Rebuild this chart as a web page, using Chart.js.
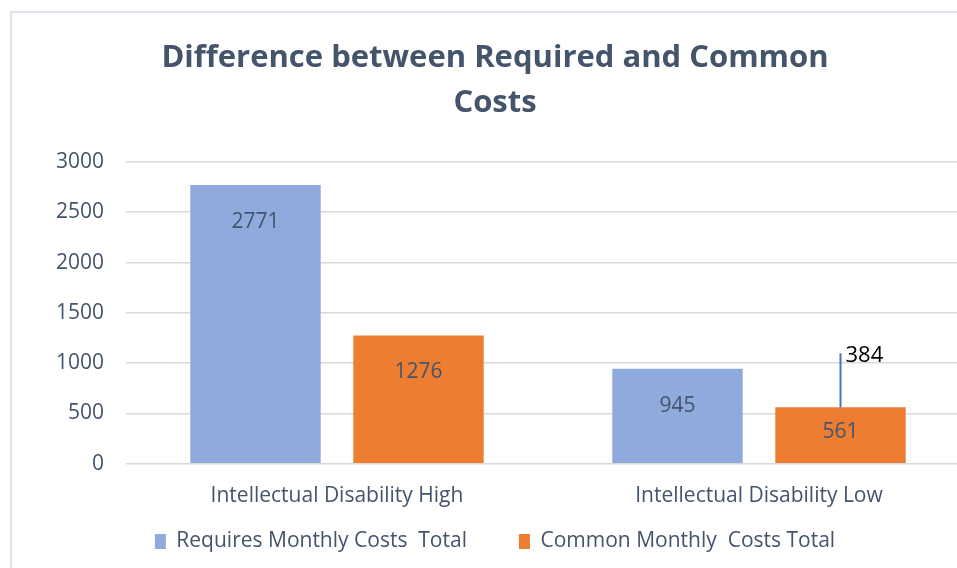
<!DOCTYPE html>
<html>
<head>
<meta charset="utf-8">
<script src="https://cdn.jsdelivr.net/npm/chart.js@4.4.1/dist/chart.umd.min.js"></script>
<style>
  html, body { margin: 0; padding: 0; background: #fff; overflow: hidden; }
  #frame { position: absolute; left: 10px; top: 11px; width: 1000px; height: 600px;
           border-left: 2px solid #dde3ea; border-top: 2px solid #dde3ea; }
  #wrap { position: absolute; left: 0; top: 0; width: 980px; height: 568px; }
</style>
</head>
<body>
<div id="frame"></div>
<div id="wrap"><canvas id="myChart"></canvas></div>
<script>
// chart data
const categories = ['Intellectual Disability High', 'Intellectual Disability Low'];
const requiredCosts = [2771, 945];
const commonCosts = [1276, 561];
const seriesNames = ['Requires Monthly Costs  Total', 'Common Monthly  Costs Total'];
const diffLabels = [null, 384];   // difference shown above the 2nd orange bar

const textColor = '#44546a';
const fontFamily = "'Open Sans', 'Noto Sans', sans-serif";

// value labels inside the bars + the leader line with the difference
const barLabels = {
    id: 'barLabels',
    afterDatasetsDraw(chart) {
        const ctx = chart.ctx;
        ctx.save();
        ctx.font = '21px ' + fontFamily;
        ctx.fillStyle = textColor;
        ctx.textAlign = 'center';
        ctx.textBaseline = 'middle';
        chart.data.datasets.forEach((ds, i) => {
            chart.getDatasetMeta(i).data.forEach((bar, j) => {
                const mid = (bar.y + bar.base) / 2;
                const y = Math.min(bar.y + 37, mid - 3);
                ctx.fillText(ds.data[j], bar.x, y);
            });
        });
        // difference marker
        const meta = chart.getDatasetMeta(1);
        diffLabels.forEach((d, j) => {
            if (d == null) return;
            const bar = meta.data[j];
            ctx.strokeStyle = '#4472c4';
            ctx.lineWidth = 2;
            ctx.beginPath();
            ctx.moveTo(bar.x, bar.y);
            ctx.lineTo(bar.x, bar.y - 54);
            ctx.stroke();
            ctx.fillStyle = '#000';
            ctx.font = '22px ' + fontFamily;
            ctx.textAlign = 'left';
            ctx.fillText(d, bar.x + 5, bar.y - 52);
        });
        ctx.restore();
    }
};

var ctx = document.getElementById('myChart').getContext('2d');
var myChart = new Chart(ctx, {
    type: 'bar',
    data: {
        labels: categories,
        datasets: [{
            label: seriesNames[0],
            data: requiredCosts,
            backgroundColor: '#8faadc',
            categoryPercentage: 0.7725,
            barPercentage: 0.8
        }, {
            label: seriesNames[1],
            data: commonCosts,
            backgroundColor: '#ed7d31',
            categoryPercentage: 0.7725,
            barPercentage: 0.8
        }]
    },
    options: {
        responsive: true,
        maintainAspectRatio: false,
        animation: false,
        layout: { padding: { left: 20, right: 10, top: 36, bottom: 6 } },
        plugins: {
            title: {
                display: true,
                text: ['Difference between Required and Common', 'Costs'],
                color: textColor,
                font: { family: fontFamily, size: 31, weight: 'bold', lineHeight: 1.45 },
                padding: { top: 0, bottom: 36 }
            },
            legend: {
                position: 'bottom',
                labels: {
                    color: textColor,
                    font: { family: fontFamily, size: 21 },
                    boxWidth: 11,
                    boxHeight: 15,
                    padding: 10,
                    generateLabels(chart) {
                        const items = Chart.defaults.plugins.legend.labels.generateLabels(chart);
                        // wider gap after the first entry
                        items[0].text = items[0].text + '\u2003\u2003';
                        return items;
                    }
                }
            },
            tooltip: { enabled: false }
        },
        scales: {
            x: {
                grid: { display: false },
                border: { display: false },
                ticks: { color: textColor, font: { family: fontFamily, size: 21 }, padding: 12 }
            },
            y: {
                min: 0,
                max: 3000,
                ticks: {
                    stepSize: 500,
                    color: textColor,
                    font: { family: fontFamily, size: 21 },
                    padding: 22,
                    callback: v => String(v)
                },
                grid: { color: '#d9d9d9', lineWidth: 1.5, drawTicks: false },
                border: { display: false },
                afterFit(scale) { scale.width = 106; }
            }
        }
    },
    plugins: [barLabels]
});
</script>
</body>
</html>
